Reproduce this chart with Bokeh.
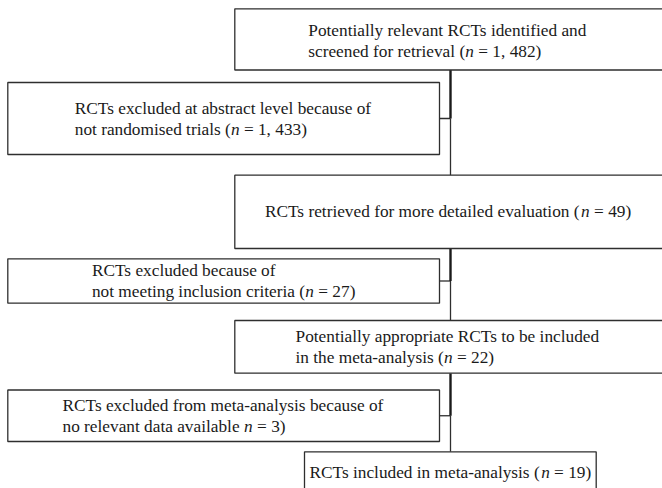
from bokeh.plotting import figure
from bokeh.models import Range1d, ColumnDataSource
from bokeh.core.properties import value
from bokeh.embed import file_html
from bokeh.resources import INLINE

# ---------------- data ----------------
stage_counts = [1482, 1433, 49, 27, 22, 3, 19]
stage_templates = [
    ["Potentially relevant RCTs identified and", "screened for retrieval (*n* = {n})"],
    ["RCTs excluded at abstract level because of", "not randomised trials (*n* = {n})"],
    ["RCTs retrieved for more detailed evaluation (*n* = {n})"],
    ["RCTs excluded because of", "not meeting inclusion criteria (*n* = {n})"],
    ["Potentially appropriate RCTs to be included", "in the meta-analysis (*n* = {n})"],
    ["RCTs excluded from meta-analysis because of", "no relevant data available *n* = {n})"],
    ["RCTs included in meta-analysis (*n* = {n})"],
]

# ---------------- layout (reference pixel space) ----------------
box_left = [234.3, 7.3, 234.3, 7.3, 234.3, 7.3, 304.0]
box_right = [666.0, 439.0, 666.0, 439.0, 666.0, 439.0, 595.7]
text_cx = [447.6, 223.2, 447.6, 223.2, 447.6, 223.2, 449.9]
box_top = [8.3, 82.0, 174.7, 258.3, 320.0, 389.5, 451.3]
box_bottom = [69.5, 154.0, 248.0, 302.7, 372.7, 441.0, 500.0]
text_cy = [40.0, 118.0, 211.3, 280.5, 346.3, 415.2, 472.0]
spine_x = 450.0
side_boxes = [1, 3, 5]  # excluded boxes hanging off the spine
main_boxes = [0, 2, 4, 6]

FONT = "Liberation Serif"
FS = 17.3
LINE_GAP = 21.0

# Times-compatible advance widths (per 1000 em)
W = {' ': 250, '(': 333, ')': 333, ',': 250, '-': 333, '=': 564, '.': 250}
for c in '0123456789':
    W[c] = 500
W.update(dict(zip('abcdefghijklmnopqrstuvwxyz',
                  [444, 500, 444, 500, 444, 333, 500, 500, 278, 278, 500, 278, 778,
                   500, 500, 500, 500, 333, 389, 278, 500, 500, 722, 500, 500, 444])))
W.update(dict(zip('ABCDEFGHIJKLMNOPQRSTUVWXYZ',
                  [722, 667, 667, 722, 611, 556, 722, 722, 333, 389, 722, 611, 889,
                   722, 722, 556, 722, 667, 556, 611, 722, 722, 944, 722, 722, 611])))


def tw(s):
    return sum(W.get(ch, 500) for ch in s) * FS / 1000.0


def fmt(n):
    s = f"{n:,}"
    return s.replace(",", ", ")


p = figure(width=662, height=488, output_backend="svg", toolbar_location=None,
           x_range=Range1d(0, 662), y_range=Range1d(488, 0),
           min_border=0, min_border_left=0, min_border_right=0,
           min_border_top=0, min_border_bottom=0)
p.axis.visible = False
p.xgrid.visible = False
p.ygrid.visible = False
p.outline_line_color = None
p.background_fill_color = "white"
p.border_fill_color = "white"

LC = "#2e2e2e"

# connectors: thick part from main box down to junction, thin part below
thick_x0, thick_y0, thick_x1, thick_y1 = [], [], [], []
thin_x0, thin_y0, thin_x1, thin_y1 = [], [], [], []
for k, sb in enumerate(side_boxes):
    upper = main_boxes[k]
    lower = main_boxes[k + 1]
    jy = (box_top[sb] + box_bottom[sb]) / 2.0
    thick_x0.append(spine_x); thick_y0.append(box_bottom[upper])
    thick_x1.append(spine_x); thick_y1.append(jy)
    thin_x0 += [spine_x, box_right[sb]]
    thin_y0 += [jy, jy]
    thin_x1 += [spine_x, spine_x]
    thin_y1 += [box_top[lower], jy]

p.segment(x0=thin_x0, y0=thin_y0, x1=thin_x1, y1=thin_y1, line_color=LC, line_width=1.3)
p.segment(x0=thick_x0, y0=thick_y0, x1=thick_x1, y1=thick_y1, line_color="#1a1a1a", line_width=2.4)

# boxes
p.quad(left=box_left, right=box_right, top=box_top, bottom=box_bottom,
       fill_color="white", line_color=LC, line_width=1.3)

# texts
norm = dict(x=[], y=[], t=[])
ital = dict(x=[], y=[], t=[])
for i, tmpl in enumerate(stage_templates):
    lines = [ln.replace("{n}", fmt(stage_counts[i])) for ln in tmpl]
    plain = [ln.replace("*", "") for ln in lines]
    block = max(tw(s) for s in plain)
    cx = text_cx[i]
    cy = text_cy[i]
    x0 = cx - block / 2.0
    nl = len(lines)
    for j, ln in enumerate(lines):
        y = cy + (j - (nl - 1) / 2.0) * LINE_GAP
        parts = ln.split("*")
        x = x0
        for k, part in enumerate(parts):
            if part == "":
                continue
            lead = len(part) - len(part.lstrip(" "))
            x += tw(" " * lead)
            body = part.lstrip(" ")
            d = ital if k % 2 == 1 else norm
            if body:
                d["x"].append(x); d["y"].append(y); d["t"].append(body)
            x += tw(body)

p.text(x="x", y="y", text="t", source=ColumnDataSource(norm),
       text_font=value(FONT), text_font_size=value(f"{FS}px"),
       text_baseline="middle", text_align="left", text_color="#1a1a1a")
p.text(x="x", y="y", text="t", source=ColumnDataSource(ital),
       text_font=value(FONT), text_font_size=value(f"{FS}px"), text_font_style="italic",
       text_baseline="middle", text_align="left", text_color="#1a1a1a")

open("out.html", "w").write(file_html(p, INLINE))
